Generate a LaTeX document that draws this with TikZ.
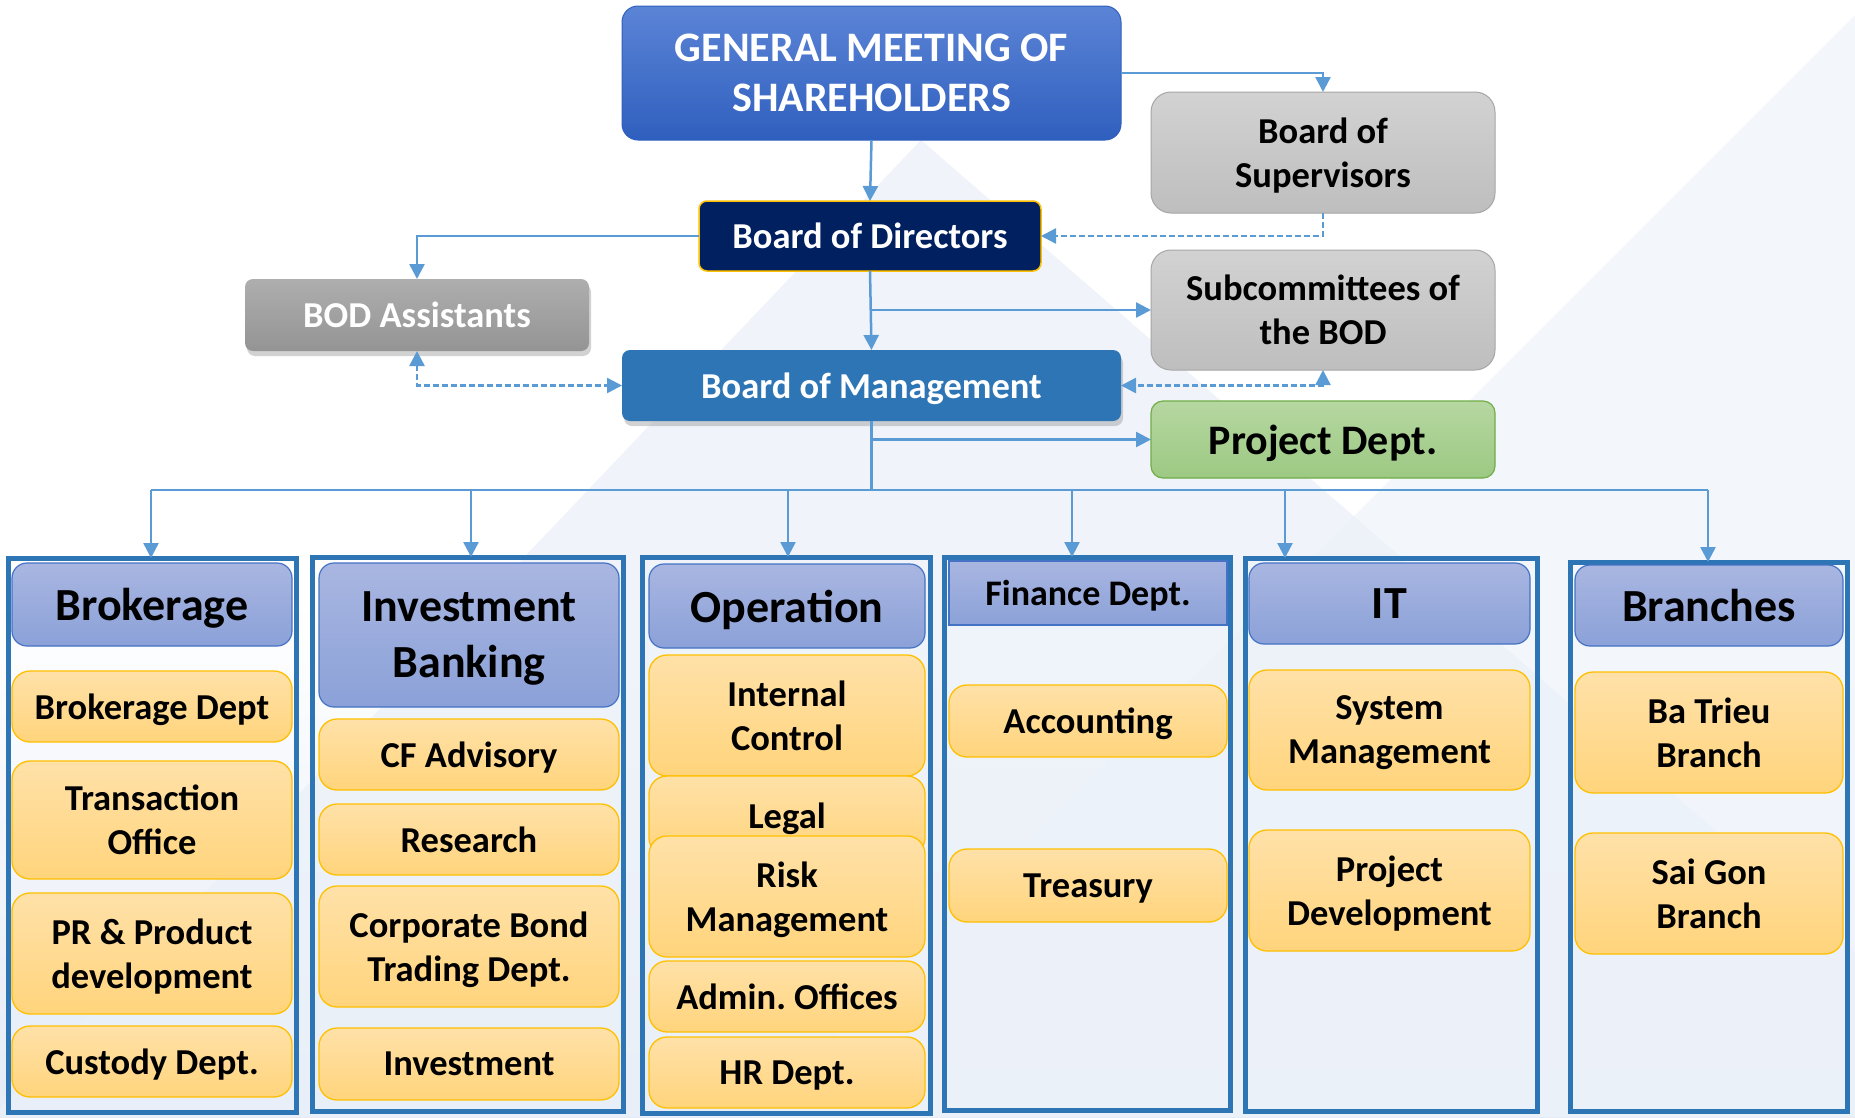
\documentclass[tikz,border=0pt]{standalone}
\usepackage{fontspec}
\setmainfont{Carlito}
\usetikzlibrary{arrows.meta,shadows}
\frenchspacing
\definecolor{linkblue}{HTML}{5B9BD5}
\definecolor{gmsT}{HTML}{5B84D6}
\definecolor{gmsB}{HTML}{2F5FBE}
\definecolor{bodfill}{HTML}{002060}
\definecolor{gold}{HTML}{FFC000}
\definecolor{bomfill}{HTML}{2E75B6}
\definecolor{grayT}{HTML}{D2D2D2}
\definecolor{grayB}{HTML}{BEBEBE}
\definecolor{grayD}{HTML}{A6A6A6}
\definecolor{dgrayT}{HTML}{AEAEAE}
\definecolor{dgrayB}{HTML}{949494}
\definecolor{greenT}{HTML}{B6D7A1}
\definecolor{greenB}{HTML}{9CC983}
\definecolor{greenD}{HTML}{70AD47}
\definecolor{hdrT}{HTML}{A9B6E1}
\definecolor{hdrB}{HTML}{8BA1D8}
\definecolor{hdrD}{HTML}{4472C4}
\definecolor{yelT}{HTML}{FFE1A8}
\definecolor{yelB}{HTML}{FFD47C}
\definecolor{framec}{HTML}{2E75B6}
\definecolor{bgA}{HTML}{F1F5FB}
\definecolor{bgB}{HTML}{EBF1F9}
\definecolor{bgC}{HTML}{E4EBF6}
\begin{document}
\begin{tikzpicture}[x=1pt,y=-1pt,
  sz/.style 2 args={minimum width=#1pt, minimum height=#2pt},
  box/.style={rectangle, inner sep=0pt, outer sep=0pt, align=center, text depth=0pt,
    font=\bfseries\fontsize{36.5}{44}\selectfont},
  gms/.style={box, rounded corners=16pt, top color=gmsT, bottom color=gmsB,
    draw=gmsB, line width=1pt, text=white, font=\bfseries\fontsize{42}{50}\selectfont},
  bodbox/.style={box, rounded corners=8pt, fill=bodfill, draw=gold, line width=1.5pt, text=white},
  bombox/.style={box, rounded corners=8pt, fill=bomfill, text=white,
    drop shadow={opacity=0.35, shadow xshift=2pt, shadow yshift=-5pt}},
  graybox/.style={box, rounded corners=20pt, top color=grayT, bottom color=grayB,
    draw=grayD, line width=1pt, text=black},
  dgraybox/.style={box, rounded corners=8pt, top color=dgrayT, bottom color=dgrayB, text=white,
    drop shadow={opacity=0.35, shadow xshift=2pt, shadow yshift=-5pt}},
  greenbox/.style={box, rounded corners=12pt, top color=greenT, bottom color=greenB,
    draw=greenD, line width=1.2pt, text=black, font=\bfseries\fontsize{42}{50}\selectfont},
  hdr/.style={box, rounded corners=15pt, top color=hdrT, bottom color=hdrB,
    draw=hdrD, line width=1.2pt, text=black, font=\bfseries\fontsize{46}{56}\selectfont},
  hdrsq/.style={hdr, sharp corners, font=\bfseries\fontsize{36}{44}\selectfont},
  ybox/.style={box, rounded corners=18pt, top color=yelT, bottom color=yelB,
    draw=gold, line width=1.3pt, text=black},
  frame/.style={rectangle, draw=framec, line width=5pt, inner sep=0pt, outer sep=0pt},
  conn/.style={draw=linkblue, line width=2.5pt},
  arr/.style={conn, -{Triangle[length=15pt,width=15pt]}},
  darr/.style={conn, dash pattern=on 6pt off 3pt, {Triangle[length=15pt,width=15pt]}-{Triangle[length=15pt,width=15pt]}},
  sarr/.style={conn, dash pattern=on 6pt off 3pt, -{Triangle[length=15pt,width=15pt]}}
]
\useasboundingbox (0,0) rectangle (1855,1117);
% background
\fill[white] (0,0) rectangle (1855,1117);
\shade[top color=white, bottom color=bgC] (0,600) rectangle (1855,1117);
\fill[bgA, opacity=0.8] (1855,15) -- (1855,1117) -- (753,1117) -- cycle;
\fill[bgB, opacity=0.75] (921,140) -- (1855,952) -- (1855,1117) -- (0,1117) -- (0,1108) -- cycle;

% top nodes
\node[gms, sz={499}{134}, yshift=-2pt] (gms) at (871.5,71) {GENERAL MEETING OF\\SHAREHOLDERS};
\node[graybox, sz={344}{121}] (bos) at (1323,152.5) {Board of\\Supervisors};
\node[bodbox, sz={342}{70}] (bod) at (870,236) {Board of Directors};
\node[dgraybox, sz={344}{72}] (boda) at (417,315) {BOD Assistants};
\node[graybox, sz={344}{120}] (sub) at (1323,310) {Subcommittees of\\the BOD};
\node[bombox, sz={499}{71}] (bom) at (871.5,385.5) {Board of Management};
\node[greenbox, sz={344}{77}] (proj) at (1323,439.5) {Project Dept.};

% column frames
\node[frame, sz={288}{554}] (colBrok) at (152,835) {};
\node[frame, sz={311}{554}] (colIB) at (467.5,834) {};
\node[frame, sz={288}{556}] (colOp) at (786,835) {};
\node[frame, sz={286}{553}] (colFin) at (1087,833.5) {};
\node[frame, sz={292}{553}] (colIT) at (1391,834.5) {};
\node[frame, sz={277}{549}] (colBr) at (1708.5,836.5) {};

% headers
\node[hdr, sz={280}{83}] (hBrok) at (152,604.5) {Brokerage};
\node[hdr, sz={300}{144}] (hIB) at (469,635) {Investment\\Banking};
\node[hdr, sz={276}{84}] (hOp) at (787,606) {Operation};
\node[hdrsq, sz={278}{64}] (hFin) at (1088,593) {Finance Dept.};
\node[hdr, sz={281}{81}] (hIT) at (1389.5,603.5) {IT};
\node[hdr, sz={268}{81}] (hBr) at (1709,605.5) {Branches};

% Brokerage
\node[ybox, sz={280}{71}] (b1) at (152,706.5) {Brokerage Dept};
\node[ybox, sz={280}{118}] (b2) at (152,820) {Transaction\\Office};
\node[ybox, sz={280}{121}] (b3) at (152,953.5) {PR \& Product\\development};
\node[ybox, sz={280}{71}] (b4) at (152,1061.5) {Custody Dept.};
% Investment Banking
\node[ybox, sz={300}{71}] (i1) at (469,754.5) {CF Advisory};
\node[ybox, sz={300}{71}] (i2) at (469,839.5) {Research};
\node[ybox, sz={300}{121}] (i3) at (469,946.5) {Corporate Bond\\Trading Dept.};
\node[ybox, sz={300}{72}] (i4) at (469,1064) {Investment};
% Operation
\node[ybox, sz={276}{121}] (o1) at (787,715.5) {Internal\\Control};
\node[ybox, sz={276}{80}] (o2) at (787,816) {Legal};
\node[ybox, sz={276}{121}] (o3) at (787,896.5) {Risk\\Management};
\node[ybox, sz={276}{71}] (o4) at (787,996.5) {Admin. Offices};
\node[ybox, sz={276}{71}] (o5) at (787,1072.5) {HR Dept.};
% Finance
\node[ybox, sz={278}{72}] (f1) at (1088,721) {Accounting};
\node[ybox, sz={278}{73}] (f2) at (1088,885.5) {Treasury};
% IT
\node[ybox, sz={281}{120}] (t1) at (1389.5,730) {System\\Management};
\node[ybox, sz={281}{121}] (t2) at (1389.5,890.5) {Project\\Development};
% Branches
\node[ybox, sz={268}{121}] (r1) at (1709,732.5) {Ba Trieu\\Branch};
\node[ybox, sz={268}{121}] (r2) at (1709,893.5) {Sai Gon\\Branch};

% connectors (top)
\draw[arr] (gms.east) -| (bos.north);
\draw[arr] (gms.south) -- (bod.north);
\draw[sarr] (bos.south) |- (bod.east);
\draw[arr] (bod.west) -| (boda.north);
\draw[arr] (bod.south) -- (bom.north);
\coordinate (j1) at (bod.south |- sub.west);
\draw[arr] (j1) -- (sub.west);
\draw[darr] (boda.south) |- (bom.west);
\draw[darr] (sub.south) |- (bom.east);
\coordinate (bus) at (871.5,490);
\draw[conn] (bom.south) -- (bus);
\coordinate (j2) at (bom.south |- proj.west);
\draw[arr] (j2) -- (proj.west);

% bus and drops
\coordinate (dBrok) at (151,490);
\coordinate (dIB) at (471,490);
\coordinate (dOp) at (788,490);
\coordinate (dFin) at (1072,490);
\coordinate (dIT) at (1285,490);
\coordinate (dBr) at (1708,490);
\draw[conn] (dBrok) -- (dBr);
\draw[arr] (dBrok) -- (dBrok |- colBrok.north);
\draw[arr] (dIB) -- (dIB |- colIB.north);
\draw[arr] (dOp) -- (dOp |- colOp.north);
\draw[arr] (dFin) -- (dFin |- colFin.north);
\draw[arr] (dIT) -- (dIT |- colIT.north);
\draw[arr] (dBr) -- (dBr |- colBr.north);
\end{tikzpicture}
\end{document}
